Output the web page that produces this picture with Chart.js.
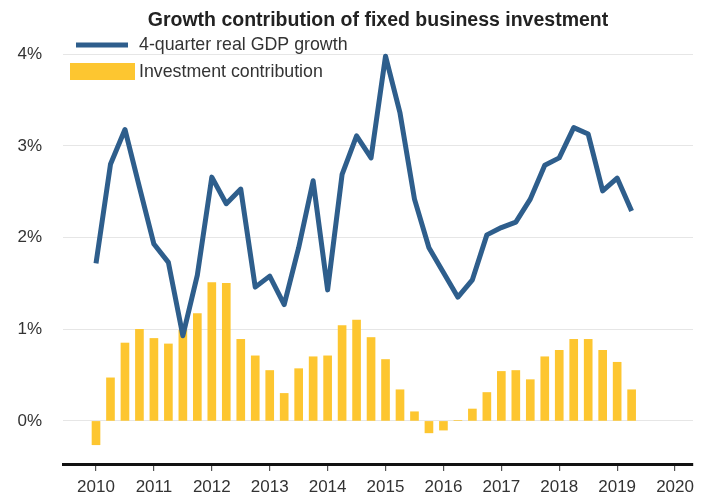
<!DOCTYPE html>
<html>
<head>
<meta charset="utf-8">
<script src="https://cdn.jsdelivr.net/npm/chart.js@4/dist/chart.umd.min.js"></script>
<style>
  html, body { margin: 0; padding: 0; background: #ffffff; }
  #wrap { width: 711px; height: 499px; position: relative; }
</style>
</head>
<body>
<div id="wrap"><canvas id="c" width="711" height="499"></canvas></div>
<script>
// ---- data ----
const quarters = [
  2010.00, 2010.25, 2010.50, 2010.75,
  2011.00, 2011.25, 2011.50, 2011.75,
  2012.00, 2012.25, 2012.50, 2012.75,
  2013.00, 2013.25, 2013.50, 2013.75,
  2014.00, 2014.25, 2014.50, 2014.75,
  2015.00, 2015.25, 2015.50, 2015.75,
  2016.00, 2016.25, 2016.50, 2016.75,
  2017.00, 2017.25, 2017.50, 2017.75,
  2018.00, 2018.25, 2018.50, 2018.75,
  2019.00, 2019.25
];
const gdpGrowth = [
  1.72, 2.80, 3.18, 2.55,
  1.93, 1.73, 0.93, 1.59,
  2.66, 2.37, 2.53, 1.46,
  1.58, 1.27, 1.89, 2.62,
  1.43, 2.69, 3.11, 2.87,
  3.98, 3.36, 2.42, 1.89,
  1.62, 1.35, 1.54, 2.03,
  2.11, 2.17, 2.42, 2.79,
  2.87, 3.20, 3.13, 2.51,
  2.65, 2.29
];
const investContribution = [
  -0.26, 0.47, 0.85, 1.00,
  0.90, 0.84, 0.99, 1.17,
  1.51, 1.50, 0.89, 0.71,
  0.55, 0.30, 0.57, 0.70,
  0.71, 1.04, 1.10, 0.91,
  0.67, 0.34, 0.10, -0.13,
  -0.10, 0.005, 0.13, 0.31,
  0.54, 0.55, 0.45, 0.70,
  0.77, 0.89, 0.89, 0.77,
  0.64, 0.34
];
const yearTicks = [2010, 2011, 2012, 2013, 2014, 2015, 2016, 2017, 2018, 2019, 2020];
const percentTicks = [0, 1, 2, 3, 4];
const titleText = 'Growth contribution of fixed business investment';
const lineLabel = '4-quarter real GDP growth';
const barLabel = 'Investment contribution';

// ---- styles ----
const BLUE = '#2e5e8c';
const YELLOW = '#fdc630';
const FONT = '"Liberation Sans", Arial, Helvetica, sans-serif';
const TEXT = '#333333';

const overlayPlugin = {
  id: 'overlay',
  afterDraw(chart) {
    const ctx = chart.ctx;
    const ca = chart.chartArea;
    ctx.save();
    // title
    ctx.fillStyle = '#222222';
    ctx.font = 'bold 19.5px ' + FONT;
    ctx.textAlign = 'center';
    ctx.textBaseline = 'alphabetic';
    ctx.fillText(titleText, (ca.left + ca.right) / 2, 26);
    // legend
    ctx.textAlign = 'left';
    ctx.textBaseline = 'middle';
    ctx.font = '17.8px ' + FONT;
    ctx.strokeStyle = BLUE;
    ctx.lineWidth = 5;
    ctx.beginPath();
    ctx.moveTo(76, 45);
    ctx.lineTo(128, 45);
    ctx.stroke();
    ctx.fillStyle = TEXT;
    ctx.fillText(lineLabel, 139, 45);
    ctx.fillStyle = YELLOW;
    ctx.fillRect(70, 63, 65, 17);
    ctx.fillStyle = TEXT;
    ctx.fillText(barLabel, 139, 72);
    ctx.restore();
  }
};

new Chart(document.getElementById('c'), {
  type: 'bar',
  data: {
    datasets: [
      {
        type: 'line',
        label: lineLabel,
        data: quarters.map((q, i) => ({ x: q, y: gdpGrowth[i] })),
        borderColor: BLUE,
        borderWidth: 5,
        borderJoinStyle: 'round',
        pointRadius: 0,
        tension: 0,
        fill: false,
        order: 0
      },
      {
        type: 'bar',
        label: barLabel,
        data: quarters.map((q, i) => ({ x: q, y: investContribution[i] })),
        backgroundColor: YELLOW,
        borderWidth: 0,
        barThickness: 8,
        order: 1
      }
    ]
  },
  options: {
    responsive: false,
    animation: false,
    devicePixelRatio: 1,
    layout: { padding: { top: 36, right: 18, left: 0, bottom: 0 } },
    plugins: {
      legend: { display: false },
      title: { display: false },
      tooltip: { enabled: false }
    },
    scales: {
      x: {
        type: 'linear',
        min: 2009.43,
        max: 2020.31,
        offset: false,
        afterBuildTicks(scale) { scale.ticks = yearTicks.map(v => ({ value: v })); },
        afterFit(scale) { scale.height = 35; },
        ticks: {
          autoSkip: false,
          maxRotation: 0,
          padding: 6,
          color: TEXT,
          font: { family: FONT, size: 17 },
          callback: (v) => String(v)
        },
        grid: {
          offset: false,
          drawOnChartArea: false,
          drawTicks: true,
          tickLength: 7,
          color: '#555555',
          lineWidth: 1.2
        },
        border: { display: true, color: '#111111', width: 3 }
      },
      y: {
        type: 'linear',
        min: -0.47,
        max: 4.2,
        afterBuildTicks(scale) { scale.ticks = percentTicks.map(v => ({ value: v })); },
        afterFit(scale) { scale.width = 63; },
        ticks: {
          padding: 21,
          color: TEXT,
          font: { family: FONT, size: 17 },
          callback: (v) => v + '%'
        },
        grid: {
          drawTicks: false,
          color: '#e6e6e6',
          lineWidth: 1
        },
        border: { display: false }
      }
    }
  },
  plugins: [overlayPlugin]
});
</script>
</body>
</html>
